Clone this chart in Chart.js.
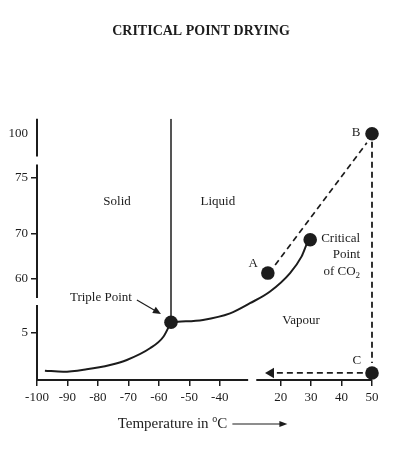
<!DOCTYPE html>
<html lang="en">
<head>
<meta charset="UTF-8">
<title>Critical Point Drying</title>
<script src="https://cdn.jsdelivr.net/npm/chart.js"></script>
<style>
    body { margin: 0; background: #fff; }
    .wrap { position: relative; width: 394px; height: 450px; }
</style>
</head>
<body>
<div class="wrap"><canvas id="phaseChart"></canvas></div>
<script>
// CO2 phase diagram (T in °C, pressure on the axis units)
const xTicks = [-100, -90, -80, -70, -60, -50, -40, 20, 30, 40, 50];
const yTicks = [5, 60, 70, 75, 100];

// solid / vapour boundary
const sublimationT = [-97.4, -91.4, -83.7, -76.0, -70.5, -62.9, -58.5, -56.0];
const sublimationP = [0.99, 0.88, 1.14, 1.6, 2.13, 3.37, 4.6, 6.15];

// liquid / vapour boundary, triple point up to critical point
const boilingT = [-56.0, -53.7, -45.5, -29.8, -10.2, 9.6, 23.1, 26.9, 29.0, 29.7];
const boilingP = [6.15, 6.2, 6.4, 7.1, 19.4, 56.7, 61.3, 65.0, 68.3, 68.7];

// solid / liquid boundary
const meltingT = [-56.0, -56.0];
const meltingP = [6.15, 108.5];

// marked points: triple point, A, critical point, B, C
const pointT = [-56.0, 7.4, 29.7, 50, 50];
const pointP = [6.15, 61.3, 68.7, 100, 0.75];

// drying path A -> B -> C -> out
const pathABT = [14.6, 48.3];
const pathABP = [63.1, 94.9];
const pathBCT = [50, 50];
const pathBCP = [95.5, 1.8];
const pathOutT = [47, 10.5];
const pathOutP = [0.75, 0.75];

// the axes are broken and not to scale: value -> position along the axis
const xKnots = [[-100, 0], [-40, 6], [20, 8], [50, 11]];
const yKnots = [[0, 0], [5, 47], [8, 75], [55, 82], [60, 101], [70, 146], [75, 202], [100, 246], [108.5, 261]];

const ink = '#1c1c1c';
const serif = '"Liberation Serif", "Times New Roman", serif';

function interp(knots, v, from, to) {
    let i = 0;
    while (i < knots.length - 2 && v > knots[i + 1][from]) i++;
    const a = knots[i], b = knots[i + 1];
    return a[to] + (v - a[from]) * (b[to] - a[to]) / (b[from] - a[from]);
}

class BrokenScale extends Chart.LinearScale {
    knots() { return this.axis === 'x' ? xKnots : yKnots; }
    getPixelForValue(value) {
        if (value === null || value === undefined || isNaN(value)) return NaN;
        const k = this.knots();
        const span = k[k.length - 1][1] - k[0][1];
        return this.getPixelForDecimal((interp(k, value, 0, 1) - k[0][1]) / span);
    }
    getValueForPixel(pixel) {
        const k = this.knots();
        const span = k[k.length - 1][1] - k[0][1];
        return interp(k, k[0][1] + this.getDecimalForPixel(pixel) * span, 1, 0);
    }
}
BrokenScale.id = 'broken';
BrokenScale.defaults = {};
Chart.register(BrokenScale);

const toXY = (xs, ys) => xs.map((x, i) => ({ x, y: ys[i] }));

// broken axis lines
const brokenAxes = {
    id: 'brokenAxes',
    beforeDatasetsDraw(chart, args, opts) {
        const { ctx, scales: { x, y } } = chart;
        ctx.save();
        ctx.strokeStyle = ink;
        ctx.lineWidth = 2;
        opts.xSegments.forEach(([a, b]) => {
            ctx.beginPath();
            ctx.moveTo(x.getPixelForValue(a), y.bottom);
            ctx.lineTo(x.getPixelForValue(b), y.bottom);
            ctx.stroke();
        });
        opts.ySegments.forEach(([a, b]) => {
            ctx.beginPath();
            ctx.moveTo(x.left, a === 0 ? y.bottom + 1 : y.getPixelForValue(a));
            ctx.lineTo(x.left, y.getPixelForValue(b));
            ctx.stroke();
        });
        ctx.restore();
    }
};

// region names, point letters, arrow to the triple point, axis title
const phaseLabels = {
    id: 'phaseLabels',
    afterDatasetsDraw(chart, args, opts) {
        const { ctx, chartArea, scales: { x, y } } = chart;
        ctx.save();
        ctx.fillStyle = ink;
        ctx.strokeStyle = ink;
        ctx.textBaseline = 'middle';
        opts.items.forEach(item => {
            const px = x.getPixelForValue(item.x), py = y.getPixelForValue(item.y);
            ctx.font = '13px ' + serif;
            const w = ctx.measureText(item.text).width;
            ctx.font = '9px ' + serif;
            const ws = item.sub ? ctx.measureText(item.sub).width : 0;
            let left = px - (w + ws) / 2;
            if (item.align === 'right') left = px - w - ws;
            ctx.textAlign = 'left';
            ctx.font = '13px ' + serif;
            ctx.fillText(item.text, left, py);
            if (item.sub) {
                ctx.font = '9px ' + serif;
                ctx.fillText(item.sub, left + w, py + 4);
            }
        });

        // arrow pointing at the triple point
        const a = opts.arrow;
        const x1 = x.getPixelForValue(a.from[0]), y1 = y.getPixelForValue(a.from[1]);
        const x2 = x.getPixelForValue(a.to[0]), y2 = y.getPixelForValue(a.to[1]);
        const ang = Math.atan2(y2 - y1, x2 - x1);
        ctx.lineWidth = 1.2;
        ctx.beginPath();
        ctx.moveTo(x1, y1);
        ctx.lineTo(x2 - 6 * Math.cos(ang), y2 - 6 * Math.sin(ang));
        ctx.stroke();
        ctx.beginPath();
        ctx.moveTo(x2, y2);
        ctx.lineTo(x2 - 8 * Math.cos(ang) + 3.5 * Math.sin(ang), y2 - 8 * Math.sin(ang) - 3.5 * Math.cos(ang));
        ctx.lineTo(x2 - 8 * Math.cos(ang) - 3.5 * Math.sin(ang), y2 - 8 * Math.sin(ang) + 3.5 * Math.cos(ang));
        ctx.closePath();
        ctx.fill();

        // x axis title: Temperature in oC ---->
        const base = chartArea.bottom + 48;
        ctx.textBaseline = 'alphabetic';
        ctx.font = '15px ' + serif;
        const w1 = ctx.measureText('Temperature in ').width;
        const wC = ctx.measureText('C').width;
        ctx.font = '10px ' + serif;
        const wo = ctx.measureText('o').width;
        const arrowLen = 55, gap = 5;
        const total = w1 + wo + wC + gap + arrowLen;
        let sx = (chartArea.left + chartArea.right) / 2 - 2 - total / 2;
        ctx.font = '15px ' + serif;
        ctx.fillText('Temperature in ', sx, base);
        ctx.font = '10px ' + serif;
        ctx.fillText('o', sx + w1, base - 6);
        ctx.font = '15px ' + serif;
        ctx.fillText('C', sx + w1 + wo, base);
        const ax = sx + w1 + wo + wC + gap, ay = base - 4;
        ctx.lineWidth = 1.2;
        ctx.beginPath();
        ctx.moveTo(ax, ay);
        ctx.lineTo(ax + arrowLen - 6, ay);
        ctx.stroke();
        ctx.beginPath();
        ctx.moveTo(ax + arrowLen, ay);
        ctx.lineTo(ax + arrowLen - 8, ay - 3);
        ctx.lineTo(ax + arrowLen - 8, ay + 3);
        ctx.closePath();
        ctx.fill();
        ctx.restore();
    }
};

const line = (data, extra) => Object.assign({
    data, showLine: true, borderColor: ink, borderWidth: 2, pointRadius: 0, fill: false
}, extra);

new Chart(document.getElementById('phaseChart'), {
    type: 'scatter',
    data: {
        datasets: [
            { label: 'Points', data: toXY(pointT, pointP), pointRadius: 6.8, pointBackgroundColor: ink, pointBorderWidth: 0, clip: false },
            line(toXY(sublimationT, sublimationP), { label: 'Sublimation', cubicInterpolationMode: 'monotone' }),
            line(toXY(boilingT, boilingP), { label: 'Boiling', cubicInterpolationMode: 'monotone' }),
            line(toXY(meltingT, meltingP), { label: 'Melting', borderWidth: 1.5 }),
            line(toXY(pathABT, pathABP), { label: 'A-B', borderWidth: 1.7, borderDash: [6, 4] }),
            line(toXY(pathBCT, pathBCP), { label: 'B-C', borderWidth: 1.8, borderDash: [6, 4], clip: false }),
            line(toXY(pathOutT, pathOutP), {
                label: 'Out', borderWidth: 1.7, borderDash: [6, 4],
                pointRadius: [0, 6], pointStyle: 'triangle', pointRotation: -90,
                pointBackgroundColor: ink, pointBorderWidth: 0
            })
        ]
    },
    options: {
        responsive: true,
        maintainAspectRatio: false,
        animation: false,
        layout: { padding: { left: 8, right: 0, top: 0, bottom: 0 } },
        scales: {
            x: {
                type: 'broken',
                min: -100, max: 50,
                afterBuildTicks: s => { s.ticks = xTicks.map(v => ({ value: v })); },
                afterFit: s => { s.height = 70; },
                border: { display: false },
                grid: { drawOnChartArea: false, drawTicks: true, tickLength: 6, lineWidth: 1.5, color: ink },
                ticks: {
                    autoSkip: false, maxRotation: 0, minRotation: 0, padding: 4,
                    color: ink, font: { family: serif, size: 13 },
                    callback: v => String(v)
                }
            },
            y: {
                type: 'broken',
                min: 0, max: 108.5,
                afterBuildTicks: s => { s.ticks = yTicks.map(v => ({ value: v })); },
                afterFit: s => { s.width = 29; },
                border: { display: false },
                grid: {
                    drawOnChartArea: false, drawTicks: true, tickLength: 6, lineWidth: 1.5,
                    color: c => (c.tick && c.tick.value === 100 ? 'rgba(0,0,0,0)' : ink)
                },
                ticks: {
                    autoSkip: false, padding: 3,
                    color: ink, font: { family: serif, size: 13 },
                    callback: v => String(v)
                }
            },
            // empty right margin so the title centres over the whole page
            spacer: {
                type: 'linear',
                position: 'right',
                afterFit: s => { s.width = 22; },
                border: { display: false },
                grid: { display: false },
                ticks: { display: false }
            }
        },
        plugins: {
            legend: { display: false },
            tooltip: { enabled: false },
            title: {
                display: true,
                text: 'CRITICAL POINT DRYING',
                color: ink,
                font: { family: serif, size: 14, weight: 'bold' },
                padding: { top: 23, bottom: 79 }
            },
            brokenAxes: {
                xSegments: [[-100, -12], [-4, 50]],
                ySegments: [[0, 8], [55, 82.6], [87.1, 108.5]]
            },
            phaseLabels: {
                items: [
                    { text: 'Solid', x: -73.7, y: 72.9 },
                    { text: 'Liquid', x: -40.6, y: 72.9 },
                    { text: 'Vapour', x: 26.7, y: 6.3 },
                    { text: 'Triple Point', x: -79, y: 55 },
                    { text: 'A', x: -7.0, y: 63.3 },
                    { text: 'B', x: 44.8, y: 100.7 },
                    { text: 'C', x: 45.0, y: 2.1 },
                    { text: 'Critical', x: 46.1, y: 68.9, align: 'right' },
                    { text: 'Point', x: 46.1, y: 65.3, align: 'right' },
                    { text: 'of CO', sub: '2', x: 46.1, y: 61.6, align: 'right' }
                ],
                arrow: { from: [-67.2, 41.6], to: [-59.3, 7.04] }
            }
        }
    },
    plugins: [brokenAxes, phaseLabels]
});
</script>
</body>
</html>
